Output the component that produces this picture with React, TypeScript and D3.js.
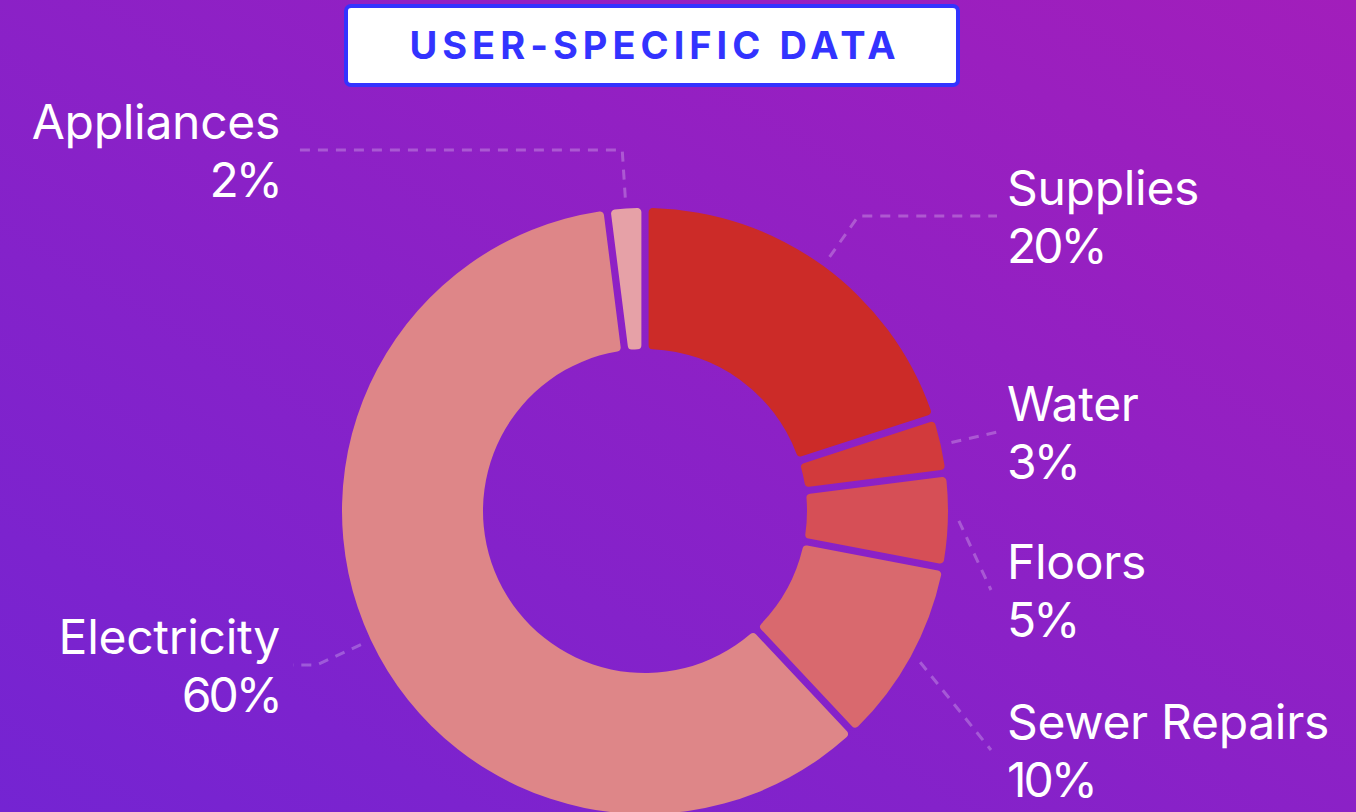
import { useEffect } from "react";
import * as d3 from "d3";

const categories = ["Supplies", "Water", "Floors", "Sewer Repairs", "Electricity", "Appliances"];
const values = [20, 3, 5, 10, 60, 2];
const colors = ["#cc2b28", "#d23a3c", "#d64f56", "#d9696e", "#de8688", "#e6a1a7"];
// vertical spot of each label (after overlap push), layout only
const labelY = [216, 432, 590, 750, 665, 150];

const width = 1356;
const height = 812;
const cx = 645;
const cy = 511;
const outerR = 303;
const innerR = 162;

const App = () => {
  useEffect(() => {
    document.body.style.margin = "0";
  }, []);

  const arcs = d3
    .pie<number>()
    .sort(null)
    .value((d) => d)(values);
  const arc = d3
    .arc<d3.PieArcDatum<number>>()
    .innerRadius(innerR)
    .outerRadius(outerR)
    .padAngle(0.021)
    .cornerRadius(4);

  const total = d3.sum(values);
  const line = d3.line();

  return (
    <svg width={width} height={height} style={{ display: "block" }}>
      <defs>
        <linearGradient id="bg" x1="0" y1="1" x2="1" y2="0">
          <stop offset="0" stopColor="#7424d2" />
          <stop offset="1" stopColor="#a21ebb" />
        </linearGradient>
      </defs>
      <rect width={width} height={height} fill="url(#bg)" />

      <g transform={`translate(${cx},${cy})`}>
        {arcs.map((d, i) => (
          <path key={i} d={arc(d) || ""} fill={colors[i]} />
        ))}
      </g>

      <g fontFamily="Inter, sans-serif" fontSize={48} fill="#fff">
        {arcs.map((d, i) => {
          const mid = (d.startAngle + d.endAngle) / 2;
          const right = Math.sin(mid) > 0;
          const r1 = outerR + 11;
          const r2 = outerR + 60;
          const start: [number, number] = [cx + r1 * Math.sin(mid), cy - r1 * Math.cos(mid)];
          const elbowY = cy - r2 * Math.cos(mid);
          const endX = right ? 997 : 293;
          const ly = labelY[i];
          let pts: [number, number][];
          if (Math.abs(elbowY - ly) > 20) {
            pts = [start, [right ? endX - 6 : endX + 6, ly]];
          } else {
            let ex = cx + r2 * Math.sin(mid);
            ex = right ? Math.min(ex, endX) : Math.max(ex, endX);
            pts = [start, [ex, ly], [endX, ly]];
          }
          const tx = right ? 1007 : 280;
          return (
            <g key={i}>
              <path
                d={line(pts) || ""}
                fill="none"
                stroke="#ffffff"
                strokeOpacity={0.25}
                strokeWidth={3}
                strokeDasharray="10 8"
              />
              <text x={tx} y={ly - 11} textAnchor={right ? "start" : "end"} letterSpacing={-0.3}>
                {categories[i]}
              </text>
              <text x={tx} y={ly + 47} textAnchor={right ? "start" : "end"} letterSpacing={-3}>
                {Math.round((values[i] / total) * 100)}%
              </text>
            </g>
          );
        })}
      </g>

      <g>
        <rect x={346} y={6} width={612} height={79} rx={5} fill="#fff" stroke="#3333ff" strokeWidth={4} />
        <text
          x={655}
          y={59}
          textAnchor="middle"
          fontFamily="Inter, sans-serif"
          fontWeight={700}
          fontSize={38}
          letterSpacing={5}
          fill="#3333ff"
        >
          USER-SPECIFIC DATA
        </text>
      </g>
    </svg>
  );
};

export default App;
